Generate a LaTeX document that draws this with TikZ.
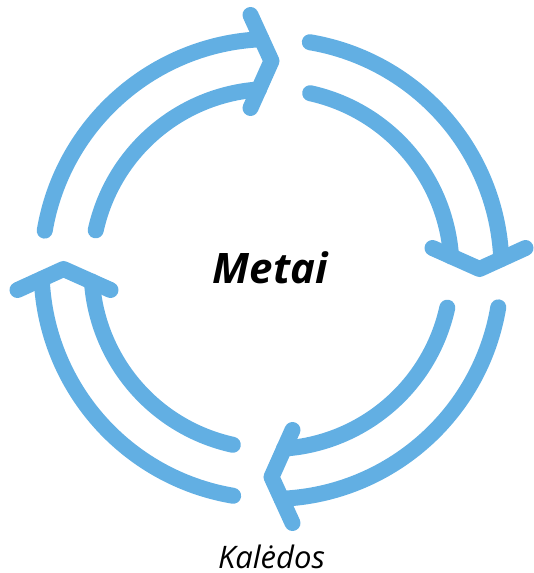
\documentclass[tikz,border=0pt]{standalone}
\usepackage{fontspec}
\setmainfont{Open Sans}
\definecolor{sky}{RGB}{98,175,227}
\tikzstyle{ring}=[draw=sky,line width=16pt,line cap=round,line join=round]
\tikzstyle{centre}=[font=\fontsize{42}{50}\selectfont\bfseries\itshape,inner sep=0pt]
\tikzstyle{note}=[font=\fontsize{31}{37}\selectfont\itshape,anchor=base,inner sep=0pt]

\begin{document}
\begin{tikzpicture}[x=1pt,y=1pt]
		\useasboundingbox (-271.5,-304) rectangle (261.5,269);
		\node[centre] (metai) at (-1,1) {Metai};
		\node[note] (kaledos) at (0,-299.5) {Kalėdos};
    		% then the four arrows, going clockwise
		\foreach \a in {90,0,-90,180} {
			\begin{scope}[rotate=\a]
				\draw[ring] (80.4:230) arc[start angle=80.4,end angle=2.5,radius=230];
				\draw[ring] (77.6:180) arc[start angle=77.6,end angle=4,radius=180];
				\draw[ring] (254,21) -- (208,0) -- (161,21);
			\end{scope}
		}
\end{tikzpicture}
\end{document}
